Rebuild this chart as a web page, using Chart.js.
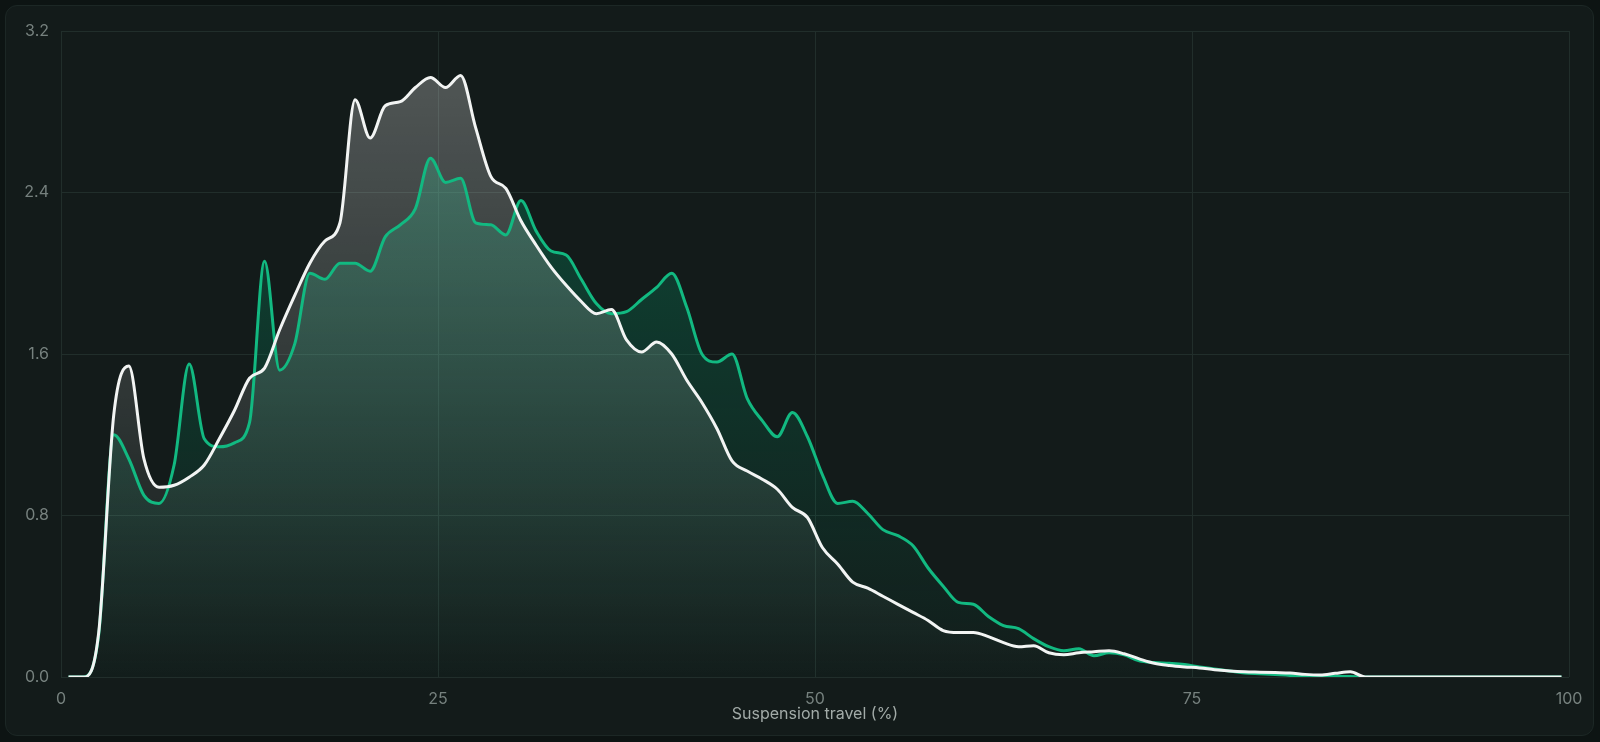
<!DOCTYPE html>
<html>
<head>
<meta charset="utf-8">
<script src="https://cdn.jsdelivr.net/npm/chart.js@4.4.1/dist/chart.umd.min.js"></script>
<style>
  html, body { margin: 0; padding: 0; background: #0d1413; width: 1600px; height: 742px; overflow: hidden; }
  #card { position: absolute; left: 5px; top: 5px; width: 1587px; height: 729px; border: 1px solid #1c2725; border-radius: 12px; background: #131b1a; }
  #wrap { position: absolute; left: 0; top: 0; width: 1600px; height: 742px; }
</style>
</head>
<body>
<div id="card"></div>
<div id="wrap"><canvas id="c" width="1600" height="742"></canvas></div>
<script>
// Bin centres (suspension travel, %)
const travelBins = [
  0.5,1.5,2.5,3.5,4.5,5.5,6.5,7.5,8.5,9.5,
  10.5,11.5,12.5,13.5,14.5,15.5,16.5,17.5,18.5,19.5,
  20.5,21.5,22.5,23.5,24.5,25.5,26.5,27.5,28.5,29.5,
  30.5,31.5,32.5,33.5,34.5,35.5,36.5,37.5,38.5,39.5,
  40.5,41.5,42.5,43.5,44.5,45.5,46.5,47.5,48.5,49.5,
  50.5,51.5,52.5,53.5,54.5,55.5,56.5,57.5,58.5,59.5,
  60.5,61.5,62.5,63.5,64.5,65.5,66.5,67.5,68.5,69.5,
  70.5,71.5,72.5,73.5,74.5,75.5,76.5,77.5,78.5,79.5,
  80.5,81.5,82.5,83.5,84.5,85.5,86.5,87.5,88.5,89.5,
  90.5,91.5,92.5,93.5,94.5,95.5,96.5,97.5,98.5,99.5
];

// White series
const whiteSeries = [
  0,0,0.22,1.30,1.54,1.08,0.94,0.95,0.99,1.05,
  1.18,1.32,1.48,1.53,1.72,1.89,2.05,2.16,2.25,2.86,
  2.67,2.83,2.85,2.92,2.97,2.92,2.98,2.72,2.48,2.42,
  2.26,2.14,2.03,1.94,1.86,1.80,1.82,1.67,1.61,1.66,
  1.60,1.47,1.36,1.23,1.07,1.02,0.98,0.93,0.84,0.79,
  0.64,0.56,0.47,0.44,0.40,0.36,0.32,0.28,0.23,0.22,
  0.22,0.20,0.17,0.15,0.155,0.12,0.11,0.12,0.125,0.13,
  0.115,0.09,0.068,0.057,0.05,0.045,0.036,0.03,0.026,0.024,
  0.022,0.02,0.013,0.01,0.018,0.026,0,0,0,0,
  0,0,0,0,0,0,0,0,0,0
];

// Green series
const greenSeries = [
  0,0,0.21,1.20,1.08,0.90,0.86,1.05,1.55,1.18,
  1.14,1.16,1.26,2.06,1.52,1.65,2.00,1.97,2.05,2.05,
  2.01,2.18,2.24,2.32,2.57,2.45,2.47,2.25,2.24,2.19,
  2.36,2.21,2.11,2.09,1.97,1.85,1.80,1.81,1.87,1.93,
  2.00,1.83,1.60,1.56,1.60,1.38,1.27,1.19,1.31,1.19,
  1.00,0.86,0.87,0.81,0.73,0.70,0.65,0.54,0.45,0.37,
  0.36,0.30,0.255,0.24,0.19,0.15,0.13,0.14,0.105,0.12,
  0.11,0.08,0.072,0.068,0.062,0.05,0.04,0.03,0.02,0.016,
  0.012,0.008,0.006,0.005,0.004,0.002,0,0,0,0,
  0,0,0,0,0,0,0,0,0,0
];

const xTicks = [0, 25, 50, 75, 100];
const yTicks = [0.0, 0.8, 1.6, 2.4, 3.2];

function toPoints(values) {
  return values.map((v, i) => ({ x: travelBins[i], y: v }));
}

function gradient(topColor, bottomColor) {
  return (context) => {
    const chart = context.chart;
    const area = chart.chartArea;
    if (!area) return topColor;
    const g = chart.ctx.createLinearGradient(0, area.top, 0, area.bottom);
    g.addColorStop(0, topColor);
    g.addColorStop(1, bottomColor);
    return g;
  };
}

const gridColor = '#212e2b';
const tickColor = '#76817e';

new Chart(document.getElementById('c'), {
  type: 'line',
  data: {
    datasets: [
      {
        label: 'White',
        data: toPoints(whiteSeries),
        borderColor: '#f2f4f3',
        borderWidth: 3,
        pointRadius: 0,
        cubicInterpolationMode: 'monotone',
        fill: 'origin',
        backgroundColor: gradient('rgba(255,255,255,0.28)', 'rgba(255,255,255,0.0)')
      },
      {
        label: 'Green',
        data: toPoints(greenSeries),
        borderColor: '#12b981',
        borderWidth: 3,
        pointRadius: 0,
        cubicInterpolationMode: 'monotone',
        fill: 'origin',
        backgroundColor: gradient('rgba(5,150,105,0.42)', 'rgba(5,150,105,0.02)')
      }
    ]
  },
  options: {
    responsive: false,
    animation: false,
    devicePixelRatio: 1,
    events: [],
    layout: { padding: { top: 31, right: 31, left: 0, bottom: 0 } },
    plugins: {
      legend: { display: false },
      tooltip: { enabled: false },
      filler: { drawTime: 'beforeDatasetsDraw' }
    },
    scales: {
      x: {
        type: 'linear',
        min: 0,
        max: 100,
        afterBuildTicks: (s) => { s.ticks = xTicks.map(v => ({ value: v })); },
        ticks: { color: tickColor, font: { family: 'Inter', size: 16 }, padding: 13, maxRotation: 0 },
        grid: { color: gridColor, drawTicks: false, lineWidth: 1 },
        border: { display: false },
        title: {
          display: true,
          text: 'Suspension travel (%)',
          color: '#a2aba8',
          font: { family: 'Inter', size: 16 },
          padding: { top: 0, bottom: 18 }
        },
        afterFit: (s) => { s.height = 65; }
      },
      y: {
        min: 0,
        max: 3.2,
        afterBuildTicks: (s) => { s.ticks = yTicks.map(v => ({ value: v })); },
        ticks: {
          color: tickColor,
          font: { family: 'Inter', size: 16 },
          padding: 12,
          callback: (v) => Number(v).toFixed(1)
        },
        grid: { color: gridColor, drawTicks: false, lineWidth: 1 },
        border: { display: false },
        afterFit: (s) => { s.width = 61; }
      }
    }
  }
});
</script>
</body>
</html>
